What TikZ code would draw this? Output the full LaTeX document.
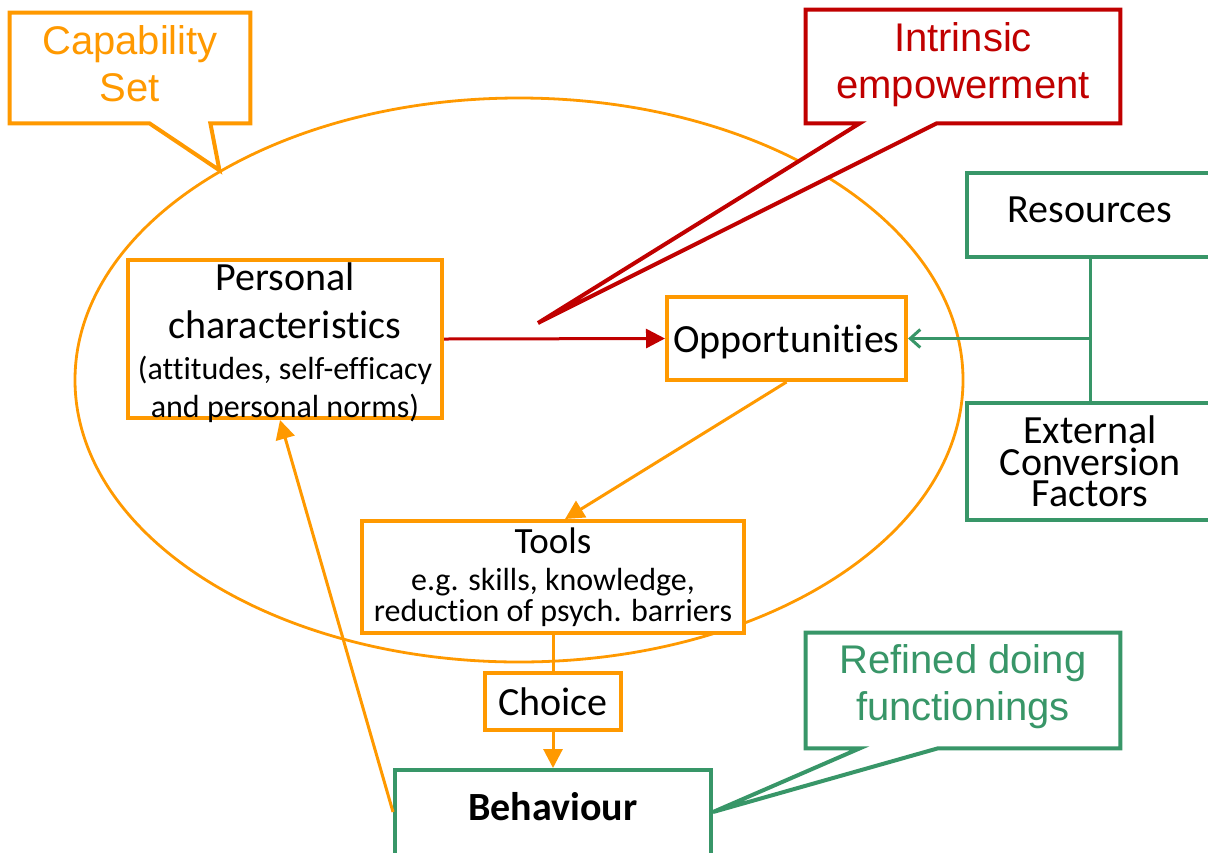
\documentclass[tikz,border=0pt]{standalone}
\usepackage{fontspec}
\setmainfont{Carlito}[Ligatures={NoCommon}]
\newfontfamily\calloutfont{Liberation Sans}
\usetikzlibrary{arrows.meta,positioning,shapes.geometric}

\definecolor{capaorange}{RGB}{255,153,0}
\definecolor{empred}{RGB}{192,0,0}
\definecolor{funcgreen}{RGB}{56,150,104}

\newcommand{\bigtext}{\fontsize{20}{24}\selectfont}
\newcommand{\smalltext}{\fontsize{16}{19}\selectfont}

\tikzset{
  capbox/.style = {draw=capaorange, fill=white, line width=2pt, align=center,
                   inner sep=0pt, font=\bigtext},
  envbox/.style = {draw=funcgreen, fill=white, line width=2pt, align=center,
                   inner sep=0pt, font=\bigtext},
  calloutbox/.style = {minimum width=157pt, minimum height=56.5pt, inner sep=0pt},
  calloutline/.style = {line width=2pt, fill=white, line join=miter},
  callouttext/.style = {align=center, inner sep=0pt,
                        font=\calloutfont\fontsize{20}{23.5}\selectfont},
  flow/.style = {line width=1.5pt, -{Triangle[length=9.5pt,width=9.5pt]}},
}

\begin{document}
\begin{tikzpicture}[x=0.5pt, y=-0.5pt]
  \path[use as bounding box, clip] (0,0) rectangle (1208,852);

  % the capability set
  \node[ellipse, draw=capaorange, line width=1.4pt, inner sep=0pt,
        minimum width=444pt, minimum height=282pt] (capring) at (519,380) {};

  % boxes inside
  \node[capbox, minimum width=157pt, minimum height=79pt] (pers) at (285,339) {};
  \node[align=center, inner sep=0pt, font=\bigtext] (perstext) at ([yshift=-2pt]pers)
    {Personal\\characteristics\\[-3.5pt]
     \smalltext (attitudes, self-efficacy\\[-5pt]
     \smalltext and personal norms)};
  \node[capbox, minimum width=119.5pt, minimum height=41.5pt, text depth=0pt] (opp)
    at (786.5,338.5) {Opportunities};
  \node[capbox, minimum width=191pt, minimum height=56pt] (tools) at (553,577)
    {\fontsize{18.5}{22}\selectfont Tools\\[-5.5pt]
     \smalltext e.g. skills, knowledge,\\[-8.5pt]
     \smalltext reduction of psych. barriers};
  \node[capbox, minimum width=68pt, minimum height=28.5pt, below=18pt of tools] (choice)
    {Choice};
  \node[envbox, minimum width=158pt, minimum height=46pt, text depth=10pt,
        below=18pt of choice] (behav)
    {\textbf{Behaviour}};

  % outside the set
  \node[envbox, minimum width=123pt, minimum height=42pt, text depth=5pt] (res) at (1090,215)
    {Resources};
  \node[envbox, minimum width=123pt, minimum height=58.5pt,
        font=\fontsize{20}{15.75}\selectfont] (ext) at (1090,461.5)
    {External\\Conversion\\Factors};

  % connectors
  \draw[flow, empred] (pers.east) -- (opp.west);
  \draw[flow, capaorange] (opp.south) -- ([xshift=6pt]tools.north);
  \draw[line width=1.5pt, capaorange] (tools) -- (choice);
  \draw[flow, capaorange] (choice) -- (behav);
  \draw[flow, capaorange] ([yshift=2pt]behav.west) -- ([xshift=-2.5pt]pers.south);
  \draw[line width=1.5pt, funcgreen] (res) -- (ext);
  \draw[line width=1.5pt, funcgreen, -{Straight Barb[length=5pt,width=9pt]}]
    (res.south |- opp.east) -- (opp.east);

  % callouts
  \coordinate (captip) at (capring.145);
  \coordinate (emptip) at (538,323);
  \coordinate (functip) at ([yshift=2pt]behav.east);

  \node[calloutbox, minimum width=120pt, minimum height=55pt] (capset) at (130,68) {};
  \draw[calloutline, draw=capaorange] (capset.north west) -- (capset.north east)
    -- (capset.south east) -- ([xshift=-20pt]capset.south east) -- (captip)
    -- ([xshift=70pt]capset.south west) -- (capset.south west) -- cycle;
  \node[callouttext, text=capaorange] (capsettext) at ([yshift=2pt]capset) {Capability\\Set};

  \node[calloutbox] (intr) at (963,66.5) {};
  \draw[calloutline, draw=empred] (intr.north west) -- (intr.north east)
    -- (intr.south east) -- ([xshift=65.5pt]intr.south west) -- (emptip)
    -- ([xshift=27pt]intr.south west) -- (intr.south west) -- cycle;
  \node[callouttext, text=empred] (intrtext) at ([yshift=1pt]intr) {Intrinsic\\empowerment};

  \node[calloutbox, minimum height=57.5pt] (refined) at (963,690.5) {};
  \draw[calloutline, draw=funcgreen] (refined.north west) -- (refined.north east)
    -- (refined.south east) -- ([xshift=66pt]refined.south west) -- (functip)
    -- ([xshift=27pt]refined.south west) -- (refined.south west) -- cycle;
  \node[callouttext, text=funcgreen] (refinedtext) at ([yshift=2pt]refined) {Refined doing\\functionings};
\end{tikzpicture}
\end{document}
